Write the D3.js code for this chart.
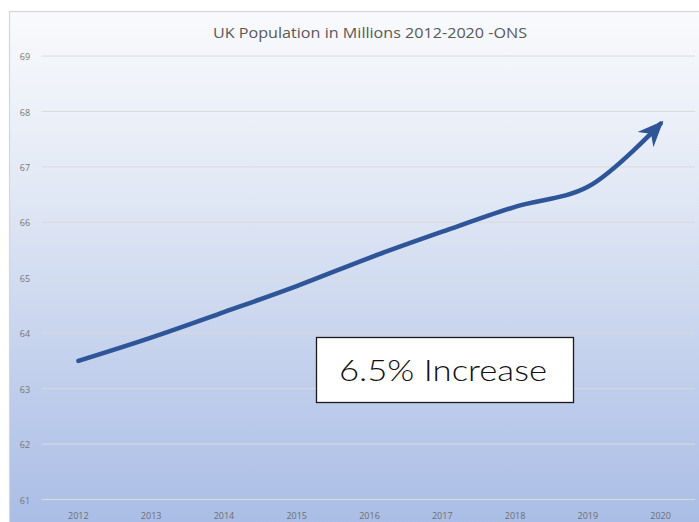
<!DOCTYPE html>
<html><head><meta charset="utf-8">
<script src="https://cdn.jsdelivr.net/npm/d3@7"></script>
<style>html,body{margin:0;padding:0;background:#fff;}svg{display:block;}</style>
</head><body>
<script>
const years = ["2012","2013","2014","2015","2016","2017","2018","2019","2020"];
const population = [63.5, 63.92, 64.38, 64.85, 65.36, 65.83, 66.28, 66.64, 67.78];
const yTicks = [61, 62, 63, 64, 65, 66, 67, 68, 69];
const title = "UK Population in Millions 2012-2020 -ONS";
const note = "6.5% Increase";

const W = 699, H = 522;
const svg = d3.select("body").append("svg").attr("width", W).attr("height", H);
const defs = svg.append("defs");
const grad = defs.append("linearGradient").attr("id","bg").attr("x1",0).attr("y1",0).attr("x2",0).attr("y2",1);
grad.append("stop").attr("offset","0%").attr("stop-color","#f9fafc");
grad.append("stop").attr("offset","35%").attr("stop-color","#e1e8f5");
grad.append("stop").attr("offset","70%").attr("stop-color","#c1cfec");
grad.append("stop").attr("offset","100%").attr("stop-color","#a8bce5");

const mk = defs.append("marker").attr("id","arrow")
  .attr("markerUnits","userSpaceOnUse").attr("markerWidth",32).attr("markerHeight",32)
  .attr("viewBox","-26 -13 32 26").attr("refX",0).attr("refY",0).attr("orient","auto");
mk.append("path").attr("d","M4,0 L-22,-11 L-14,0 L-22,11 Z").attr("fill","#2e5597");

svg.append("rect").attr("x",9.5).attr("y",11.5).attr("width",W).attr("height",H)
  .attr("fill","url(#bg)").attr("stroke","#d6d6d6").attr("stroke-width",1.2);

const x = d3.scaleBand().domain(years).range([42, 697]);
const y = d3.scaleLinear().domain([61, 69]).range([499.5, 56]);
const cx = d => x(d) + x.bandwidth()/2;

// gridlines
svg.append("g").selectAll("line").data(yTicks).join("line")
  .attr("x1", 42).attr("x2", 695)
  .attr("y1", d => y(d)).attr("y2", d => y(d))
  .attr("stroke", "#dadada").attr("stroke-width", 1);

// y labels
svg.append("g").selectAll("text").data(yTicks).join("text")
  .attr("x", 25).attr("y", d => y(d) + 1).attr("dy", "0.35em")
  .attr("text-anchor","middle").attr("font-family","Open Sans, sans-serif")
  .attr("font-size", 9).attr("fill","#767676").text(d => d);

// x labels
svg.append("g").selectAll("text").data(years).join("text")
  .attr("x", d => cx(d)).attr("y", 519)
  .attr("text-anchor","middle").attr("font-family","Open Sans, sans-serif")
  .attr("font-size", 9).attr("fill","#6e6e6e").text(d => d);

// title
svg.append("text").attr("x", 370).attr("y", 38).attr("text-anchor","middle")
  .attr("font-family","Open Sans, sans-serif").attr("font-size",14.5).attr("fill","#595959")
  .attr("textLength", 314).attr("lengthAdjust","spacingAndGlyphs").text(title);

// line
const pts = years.map((d,i) => [cx(d), y(population[i])]);
const line = d3.line().curve(d3.curveCatmullRom.alpha(0.5));
svg.append("path").attr("d", line(pts)).attr("fill","none")
  .attr("stroke","#2e5597").attr("stroke-width",4.5).attr("stroke-linecap","round")
  .attr("marker-end","url(#arrow)");

// text box
svg.append("rect").attr("x",316.5).attr("y",337.5).attr("width",257).attr("height",65)
  .attr("fill","#fff").attr("stroke","#1a1a1a").attr("stroke-width",1.3);
svg.append("text").attr("x", 443).attr("y", 381).attr("text-anchor","middle")
  .attr("font-family","Lato, sans-serif").attr("font-weight",300).attr("font-size",30).attr("fill","#111")
  .attr("textLength", 208).attr("lengthAdjust","spacingAndGlyphs").text(note);
</script>
</body></html>
